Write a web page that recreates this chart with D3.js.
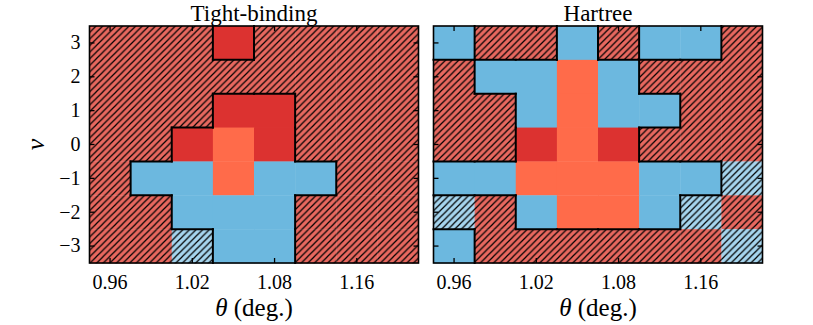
<!DOCTYPE html>
<html><head><meta charset="utf-8">
<script src="https://cdn.jsdelivr.net/npm/d3@7"></script>
<style>body{margin:0;background:#fff}svg{display:block}</style>
</head><body><svg id="c" width="813" height="325"></svg>
<script>
// ---- data ----
const panelTitles = ["Tight-binding", "Hartree"];
const thetaColumns = [0, 1, 2, 3, 4, 5, 6, 7];
const thetaTickIndex = [0, 2, 4, 6];
const thetaTickLabels = ["0.96", "1.02", "1.08", "1.16"];
const nuValues = [3, 2, 1, 0, -1, -2, -3];
// state codes: 0 hatched red, 1 red, 2 orange, 3 blue, 4 hatched light blue
const tightBinding = [
  [0,0,0,1,0,0,0,0],
  [0,0,0,0,0,0,0,0],
  [0,0,0,1,1,0,0,0],
  [0,0,1,2,1,0,0,0],
  [0,3,3,2,3,3,0,0],
  [0,0,3,3,3,0,0,0],
  [0,0,4,3,3,0,0,0]
];
const hartree = [
  [3,0,0,3,0,3,3,0],
  [0,3,3,2,3,0,0,0],
  [0,0,3,2,3,3,0,0],
  [0,0,1,2,1,0,0,0],
  [3,3,2,2,2,3,3,4],
  [4,0,3,2,2,3,4,0],
  [3,0,0,0,0,0,0,4]
];
const grids = [tightBinding, hartree];

// ---- styles ----
const stateFill = ["#e8685f", "#dc3230", "#ff6b4a", "#6cb8df", "#a6d5ee"];
const hatched = [true, false, false, false, true];
const hs = 6.6;

const svg = d3.select("#c");
const defs = svg.append("defs");
[0, 4].forEach(code => {
  const p = defs.append("pattern").attr("id", "hatch" + code)
    .attr("patternUnits", "userSpaceOnUse").attr("width", hs).attr("height", hs);
  p.append("rect").attr("width", hs).attr("height", hs).attr("fill", stateFill[code]);
  p.append("path").attr("d", `M0,${hs}L${hs},0M${-hs/4},${hs/4}L${hs/4},${-hs/4}M${hs*0.75},${hs*1.25}L${hs*1.25},${hs*0.75}`)
    .attr("stroke", "#000").attr("stroke-width", 1.2);
});

const panelX = [89.5, 433.5];
const plotTop = 26, plotW = 329, plotH = 237;
const serif = "'Liberation Serif', 'Times New Roman', serif";

grids.forEach((grid, pi) => {
  const g = svg.append("g").attr("transform", `translate(${panelX[pi]},${plotTop})`);
  const x = d3.scaleBand().domain(thetaColumns).range([0, plotW]);
  const y = d3.scaleBand().domain(nuValues).range([0, plotH]);
  const cells = [];
  grid.forEach((row, r) => row.forEach((v, c) => cells.push({c, nu: nuValues[r], v})));
  g.selectAll("rect.cell").data(cells).join("rect").attr("class", "cell")
    .attr("x", d => x(d.c)).attr("y", d => y(d.nu))
    .attr("width", x.bandwidth() + 0.4).attr("height", y.bandwidth() + 0.4)
    .attr("fill", d => hatched[d.v] ? `url(#hatch${d.v})` : stateFill[d.v]);

  // boundaries between hatched and non-hatched
  const edges = [];
  grid.forEach((row, r) => row.forEach((v, c) => {
    if (c + 1 < row.length && hatched[v] !== hatched[row[c + 1]])
      edges.push([x(c + 1), y(nuValues[r]), x(c + 1), y(nuValues[r]) + y.bandwidth()]);
    if (r + 1 < grid.length && hatched[v] !== hatched[grid[r + 1][c]])
      edges.push([x(c), y(nuValues[r + 1]), x(c) + x.bandwidth(), y(nuValues[r + 1])]);
  }));
  g.selectAll("line.edge").data(edges).join("line").attr("class", "edge")
    .attr("x1", d => d[0]).attr("y1", d => d[1]).attr("x2", d => d[2]).attr("y2", d => d[3])
    .attr("stroke", "#000").attr("stroke-width", 2).attr("stroke-linecap", "square");

  // axes (inward ticks)
  const xt = d3.scaleOrdinal().domain(thetaTickIndex).range(thetaTickLabels);
  const xb = g.append("g").attr("transform", `translate(0,${plotH})`)
    .call(d3.axisBottom(x).tickValues(thetaTickIndex).tickFormat(d => xt(d)).tickSizeInner(-5).tickSizeOuter(0).tickPadding(12));
  const xtop = g.append("g").call(d3.axisTop(x).tickValues(thetaTickIndex).tickFormat("").tickSizeInner(-5).tickSizeOuter(0));
  const yl = g.append("g").call(d3.axisLeft(y).tickFormat(d => pi === 0 ? d3.format("")(d).replace("-", "\u2212") : "").tickSizeInner(-5).tickSizeOuter(0).tickPadding(9));
  const yr = g.append("g").attr("transform", `translate(${plotW},0)`)
    .call(d3.axisRight(y).tickFormat("").tickSizeInner(-5).tickSizeOuter(0));
  [xb, xtop, yl, yr].forEach(a => {
    a.select(".domain").remove();
    a.selectAll("line").attr("stroke", "#000").attr("stroke-width", 1.3);
    a.selectAll("text").attr("font-family", serif).attr("font-size", 20).attr("fill", "#000");
  });

  g.append("rect").attr("width", plotW).attr("height", plotH)
    .attr("fill", "none").attr("stroke", "#000").attr("stroke-width", 1.6);

  g.append("text").attr("x", plotW / 2).attr("y", -5).attr("text-anchor", "middle")
    .attr("font-family", serif).attr("font-size", 23).text(panelTitles[pi]);

  const xl = g.append("text").attr("x", plotW / 2).attr("y", plotH + 53).attr("text-anchor", "middle")
    .attr("font-family", serif).attr("font-size", 25);
  xl.append("tspan").attr("font-style", "italic").text("θ");
  xl.append("tspan").text(" (deg.)");
});

svg.append("text").attr("transform", `translate(44,${plotTop + plotH / 2}) rotate(-90)`)
  .attr("text-anchor", "middle").attr("font-family", serif).attr("font-style", "italic")
  .attr("font-size", 26).text("ν");
</script></body></html>
